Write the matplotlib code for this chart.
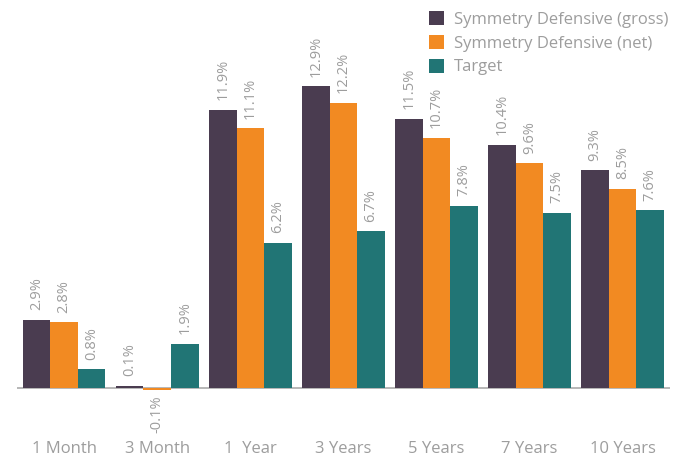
import matplotlib.pyplot as plt
import numpy as np
from matplotlib.patches import Patch

# data
periods = ['1 Month', '3 Month', '1  Year', '3 Years', '5 Years', '7 Years', '10 Years']
gross = [2.9, 0.1, 11.9, 12.9, 11.5, 10.4, 9.3]
net = [2.8, -0.1, 11.1, 12.2, 10.7, 9.6, 8.5]
target = [0.8, 1.9, 6.2, 6.7, 7.8, 7.5, 7.6]
series_names = ['Symmetry Defensive (gross)', 'Symmetry Defensive (net)', 'Target']
colors = ['#4a3c50', '#f28a22', '#217575']

plt.rcParams['font.family'] = ['Open Sans', 'DejaVu Sans']
grey = '#9d9d9d'

fig = plt.figure(figsize=(6.82, 4.57), dpi=100)
ax = fig.add_axes([0.025, 0.1357, 0.957, 0.853])

x = np.arange(len(periods))
w = 0.296
for i, (vals, col) in enumerate(zip([gross, net, target], colors)):
    pos = x + (i - 1) * w
    ax.bar(pos, vals, w, color=col, edgecolor='none')
    for px, v in zip(pos, vals):
        if v >= 0:
            ax.annotate(f'{v}%', (px, v), xytext=(0, 7), textcoords='offset points',
                        rotation=90, ha='center', va='bottom', color=grey, fontsize=10.5)
        else:
            ax.annotate(f'{v}%', (px, v), xytext=(0, -4), textcoords='offset points',
                        rotation=90, ha='center', va='top', color=grey, fontsize=10.5)

ax.axhline(0, color='#aaaaaa', lw=1.2, zorder=0)
ax.set_xlim(-0.505, 6.505)
ax.set_ylim(-0.3, 16.37)
ax.set_yticks([])
ax.set_xticks(x)
ax.set_xticklabels(periods, color=grey, fontsize=12)
ax.tick_params(axis='x', length=0, pad=33)
for s in ax.spines.values():
    s.set_visible(False)

handles = [Patch(facecolor=c, edgecolor='none') for c in colors]
fig.legend(handles, series_names, loc='upper left', bbox_to_anchor=(0.607, 1.008),
           frameon=False, fontsize=12, handlelength=0.9, handleheight=0.9,
           handletextpad=0.6, labelspacing=0.42, labelcolor=grey)

fig.savefig('out.png', dpi=100)
